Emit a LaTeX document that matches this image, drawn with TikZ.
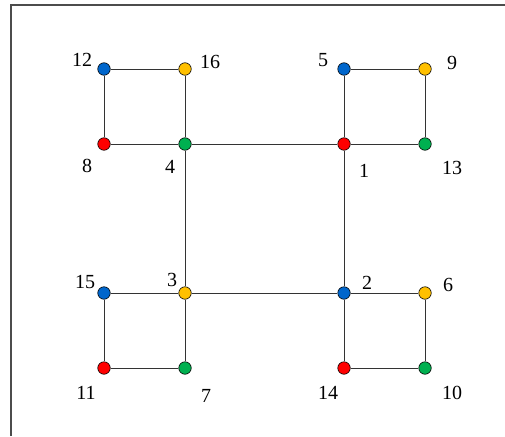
\documentclass[tikz,border=0pt]{standalone}
\usepackage{fontspec}
\setmainfont{Liberation Serif}
\usetikzlibrary{positioning}
\definecolor{vblue}{RGB}{0,102,204}
\definecolor{vyellow}{RGB}{255,192,0}
\definecolor{vred}{RGB}{255,0,0}
\definecolor{vgreen}{RGB}{0,176,80}
\begin{document}
\begin{tikzpicture}[
  x=1pt, y=-1pt,
  font=\fontsize{20}{22}\selectfont,
  vtx/.style={draw, circle, inner sep=0pt, minimum size=12.5pt, line width=0.6pt},
  num/.style={inner sep=0pt},
  edge/.style={line width=0.9pt, black!80}]

  \useasboundingbox (0,0) rectangle (505,436);
  % frame
  \draw[line width=1.4pt, black!70] (11,436) -- (11,5) -- (505,5);

  % upper block
  \node[vtx, fill=vblue]   (v12) at (104,69)  {};
  \node[vtx, fill=vyellow] (v16) at (185,69)  {};
  \node[vtx, fill=vblue]   (v5)  at (344,69)  {};
  \node[vtx, fill=vyellow] (v9)  at (425,69)  {};
  \node[vtx, fill=vred]    (v8)  at (104,144) {};
  \node[vtx, fill=vgreen]  (v4)  at (185,144) {};
  \node[vtx, fill=vred]    (v1)  at (344,144) {};
  \node[vtx, fill=vgreen]  (v13) at (425,144) {};

  % lower block
  \node[vtx, fill=vblue]   (v15) at (104,293) {};
  \node[vtx, fill=vyellow] (v3)  at (185,293) {};
  \node[vtx, fill=vblue]   (v2)  at (344,293) {};
  \node[vtx, fill=vyellow] (v6)  at (425,293) {};
  \node[vtx, fill=vred]    (v11) at (104,368) {};
  \node[vtx, fill=vgreen]  (v7)  at (185,368) {};
  \node[vtx, fill=vred]    (v14) at (344,368) {};
  \node[vtx, fill=vgreen]  (v10) at (425,368) {};

  % numbers
  \node[num] (n12) at (82,60)   {12};
  \node[num] (n16) at (210,62)  {16};
  \node[num] (n5)  at (323,60)  {5};
  \node[num] (n9)  at (452,63)  {9};
  \node[num] (n8)  at (87,166)  {8};
  \node[num] (n4)  at (170,167) {4};
  \node[num] (n1)  at (364,171) {1};
  \node[num] (n13) at (452,168) {13};
  \node[num] (n15) at (85,282)  {15};
  \node[num] (n3)  at (172,280) {3};
  \node[num] (n2)  at (367,283) {2};
  \node[num] (n6)  at (448,285) {6};
  \node[num] (n11) at (86,393)  {11};
  \node[num] (n7)  at (206,396) {7};
  \node[num] (n14) at (328,393) {14};
  \node[num] (n10) at (452,393) {10};

  % edges
  \draw[edge] (v12) -- (v16);
  \draw[edge] (v12) -- (v8);
  \draw[edge] (v16) -- (v4);
  \draw[edge] (v8) -- (v4);
  \draw[edge] (v4) -- (v1);
  \draw[edge] (v5) -- (v9);
  \draw[edge] (v5) -- (v1);
  \draw[edge] (v9) -- (v13);
  \draw[edge] (v1) -- (v13);
  \draw[edge] (v4) -- (v3);
  \draw[edge] (v1) -- (v2);
  \draw[edge] (v15) -- (v3);
  \draw[edge] (v15) -- (v11);
  \draw[edge] (v3) -- (v7);
  \draw[edge] (v11) -- (v7);
  \draw[edge] (v3) -- (v2);
  \draw[edge] (v2) -- (v6);
  \draw[edge] (v2) -- (v14);
  \draw[edge] (v6) -- (v10);
  \draw[edge] (v14) -- (v10);
\end{tikzpicture}
\end{document}
